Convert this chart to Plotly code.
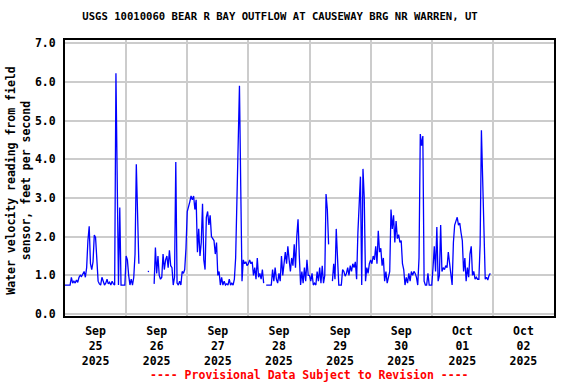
import pandas as pd
import plotly.graph_objects as go

# Water velocity (ft/s), 30-minute readings starting 2025-09-25 00:00 (None = missing)
sep25 = [0.75, 0.75, 0.75, 0.75, 0.75, 0.95, 0.8, 0.85, 0.8, 0.88, 0.82, 0.95, 1.0, 0.97, 1.02, 1.1,
         0.95, 1.2, 1.9, 2.27, 1.3, 1.15, 1.35, 2.04, 1.98, 1.2, 0.85, 0.78, 0.75, 0.95, 0.85, 0.75,
         0.8, 0.9, 0.78, 0.82, 0.75, 0.85, 0.78, 0.75, 6.22, 3.47, 0.75, 2.75, 0.75, 0.75, 0.75, 0.75]
sep26 = [1.5, 1.4, 1.0, 0.75, 0.9, 0.75, 0.95, 1.55, 3.87, 2.55, 1.3, None, None, None, None, None,
         None, 1.1, 1.1, None, None, None, 0.78, 1.72, 1.05, 1.5, 1.0, 0.9, 0.95, 1.55, 1.15, 1.4,
         1.5, 1.2, 1.65, 1.25, 1.2, 0.75, 0.95, 3.93, 0.8, 0.75, 0.85, 0.75, 1.1, 1.05, 1.15, 1.7]
sep27 = [2.65, 2.75, 2.9, 3.05, 2.95, 3.05, 2.7, 2.95, 1.6, 2.2, 1.5, 1.85, 2.85, 1.4, 1.15, 2.5,
         2.65, 2.3, 2.55, 2.0, 1.95, 1.9, 1.55, 1.85, 1.0, 1.1, 0.75, 0.95, 0.75, 0.85, 0.75, 0.78,
         0.75, 0.9, 0.75, 0.8, 0.75, 0.9, 1.45, 3.05, 4.4, 5.9, 3.3, 0.85, 1.4, 1.3, 1.35, 1.25]
sep28 = [1.3, 1.4, 1.3, 1.35, 1.0, 1.2, 0.9, 1.45, 0.95, 1.05, 0.9, 1.15, 0.8, None, 0.75, 0.75,
         0.75, 0.75, 0.75, 1.15, 0.85, 1.2, 0.9, 0.8, 1.05, 0.85, 1.5, 1.0, 1.35, 1.6, 1.3, 1.75,
         1.4, 1.1, 1.45, 1.25, 1.8, 1.2, 2.0, 2.45, 1.5, 0.75, 1.1, 0.8, 1.2, 0.85, 1.4, 1.0]
sep29 = [1.0, 0.85, 1.05, 0.75, 0.8, 0.75, 1.1, 0.85, 1.2, 0.8, 1.25, 0.8, 1.0, 3.1, 2.7, 1.8,
         None, None, 0.85, 1.3, 0.9, 2.2, 1.45, 0.75, 0.75, 0.75, 1.15, 1.1, 0.98, 1.05, 1.2, 1.0,
         1.25, 1.1, 1.3, 1.2, 1.35, 0.9, 2.1, 3.1, 3.55, 0.75, 3.75, 3.0, 0.85, 1.2, 1.05, 1.3]
sep30 = [1.4, 1.3, 1.5, 1.4, 1.75, 1.3, 2.15, 1.6, 1.7, 1.25, 1.45, 0.85, 1.1, 0.8, 1.0, 1.1,
         2.7, 2.2, 2.55, 1.85, 2.4, 1.95, 2.05, 1.85, 1.9, 1.3, 1.15, 0.75, 0.95, 0.8, 1.05, 0.85,
         1.1, 1.0, 1.1, 1.05, 0.95, 0.75, 1.45, 4.65, 4.35, 4.6, 0.85, 0.75, 0.75, 1.05, 0.75, 0.75]
oct01 = [0.75, 1.2, 1.75, 1.1, 2.25, 0.85, 1.0, 2.3, 1.1, 1.2, 1.15, 1.25, 1.2, 1.6, 1.3, 1.1,
         0.75, 1.85, 2.3, 2.4, 2.5, 2.3, 2.35, 2.1, 1.9, 1.1, 1.45, 0.85, 1.2, 0.95, 1.55, 1.75,
         1.0, 1.1, 0.9, 0.95, 0.9, 0.9, 1.8, 4.75, 3.5, 1.8, 0.9, 0.95, 0.88, 1.0, 1.05]

start_time = "2025-09-25 00:00"
velocity = sep25 + sep26 + sep27 + sep28 + sep29 + sep30 + oct01
times = pd.date_range(start_time, periods=len(velocity), freq="30min")

title_text = "USGS 10010060 BEAR R BAY OUTFLOW AT CAUSEWAY BRG NR WARREN, UT"
y_title = "Water velocity reading from field<br>sensor, feet per second"
note_text = "---- Provisional Data Subject to Revision ----"

FONT = "DejaVu Sans Mono"
GRID = "#CCCCCC"
W, H = 576, 384

fig = go.Figure(
    go.Scatter(x=times, y=velocity, mode="lines", connectgaps=False,
               line=dict(color="#0000FF", width=1.3), showlegend=False)
)

fig.update_layout(
    width=W, height=H, autosize=False,
    margin=dict(l=65, r=22, t=40, b=68, autoexpand=False),
    paper_bgcolor="white", plot_bgcolor="white",
    font=dict(family=FONT, color="black", size=11.5, weight="bold"),
    title=dict(text=title_text, x=280 / W, xref="container", xanchor="center",
               y=1 - 16 / H, yref="container", yanchor="middle",
               font=dict(family=FONT, size=10.6, color="black", weight="bold")),
    xaxis=dict(type="date", range=["2025-09-25 00:00", "2025-10-03 00:00"],
               dtick=86400000, tick0="2025-09-25", ticklabelmode="period",
               tickformat="%b<br>%d<br>%Y", ticks="", ticklabelstandoff=3,
               showgrid=True, gridcolor=GRID, gridwidth=1.5,
               showline=True, linecolor="black", linewidth=2, mirror=True,
               tickfont=dict(family=FONT, size=11.5, color="black", weight="bold")),
    yaxis=dict(range=[-0.05, 7.08], dtick=1, tick0=0, tickformat=".1f", ticks="",
               ticklabelstandoff=5,
               showgrid=True, gridcolor=GRID, gridwidth=1.5, zeroline=False,
               showline=True, linecolor="black", linewidth=2, mirror=True,
               tickfont=dict(family=FONT, size=11.5, color="black", weight="bold")),
    annotations=[
        dict(text=y_title, textangle=-90, xref="paper", yref="paper",
             x=-0.094, y=0.49, xanchor="center", yanchor="middle", showarrow=False,
             font=dict(family=FONT, size=11.5, color="black", weight="bold")),
        dict(text=note_text, xref="paper", yref="paper", x=0.5, y=-0.213,
             xanchor="center", yanchor="middle", showarrow=False,
             font=dict(family=FONT, size=11.5, color="#FF0000", weight="bold")),
    ],
)

# remove the browser's default page margin so the figure fills the window exactly
fig.write_html("out.html", config={"displayModeBar": False},
               post_script="document.body.style.margin='0';")
